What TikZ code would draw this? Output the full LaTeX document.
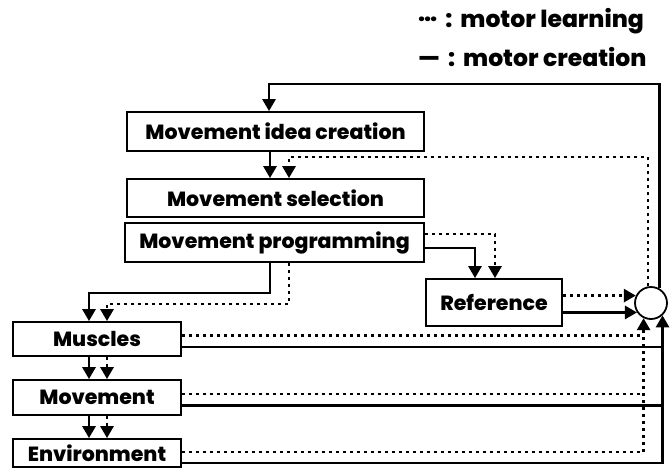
\documentclass[tikz,border=0pt]{standalone}
\usepackage{fontspec}
\setmainfont{Poppins}[BoldFont={Poppins ExtraBold}]
\usetikzlibrary{arrows.meta,calc}

\tikzset{
  block/.style={draw, line width=1.8pt, inner sep=0pt, font=\bfseries\fontsize{20.5}{20}\selectfont},
  legend/.style={anchor=west, inner sep=0pt, font=\bfseries\fontsize{23.5}{24}\selectfont},
  creation/.style={line width=2.8pt},
  learning/.style={line width=2.8pt, dash pattern=on 3pt off 4pt},
  tip/.style={-{Triangle[length=12pt,width=13pt]}}
}

\begin{document}
\begin{tikzpicture}[x=1pt,y=-1pt]
    \useasboundingbox (0,0) rectangle (672,467);

    % Legend
    \node[legend] (legl) at (418,21) {\raisebox{0.25em}{…}\hspace{8pt}:\hspace{8pt}motor learning};
    \node[legend] (legc) at (418,57) {—\hspace{8pt}:\hspace{8pt}motor creation};

    % Blocks
    \node[block, minimum width=297pt, minimum height=39pt] (mic) at (275.5,131.5) {Movement idea creation};
    \node[block, minimum width=297pt, minimum height=38pt] (ms) at (275.5,198) {Movement selection};
    \node[block, minimum width=299pt, minimum height=39pt] (mp) at (274.5,242.5) {Movement programming};
    \node[block, minimum width=136pt, minimum height=47pt] (ref) at (494,302.5) {Reference};
    \node[block, minimum width=168pt, minimum height=34pt] (mus) at (97,339) {Muscles};
    \node[block, minimum width=168pt, minimum height=35pt] (mov) at (97,397.5) {Movement};
    \node[block, minimum width=168pt, minimum height=28pt] (env) at (97,453) {Environment};

    % Comparator
    \node[draw, circle, line width=1.8pt, minimum size=32pt, inner sep=0pt] (sum) at (651,303) {};

    % Feedback to the top
    \coordinate (topline) at (0,84);
    \coordinate (dotline) at (0,157);
    \coordinate (micin) at ($(mic.north)+(-6.5,0)$);
    \coordinate (msin) at ($(ms.north)+(13.5,0)$);
    \draw[creation,tip] (sum.60) |- (micin |- topline) -- (micin);
    \draw[learning,tip] (sum.100) |- (msin |- dotline) -- (msin);

    % Idea creation -> selection
    \draw[creation,tip] ($(mic.south)+(-5.5,0)$) -- ($(ms.north)+(-5.5,0)$);

    % Programming -> reference
    \draw[creation,tip] ($(mp.east)+(0,5.5)$) -| ($(ref.north)+(-19,0)$);
    \draw[learning,tip] ($(mp.east)+(0,-8.5)$) -| ($(ref.north)+(1,0)$);

    % Programming -> muscles
    \coordinate (kneea) at (0,293);
    \coordinate (kneeb) at (0,304);
    \coordinate (mpa) at ($(mp.south)+(-4.5,0)$);
    \coordinate (mpb) at ($(mp.south)+(14.5,0)$);
    \draw[creation,tip] (mpa) -- (mpa |- kneea) -| ($(mus.north)+(-8,0)$);
    \draw[learning,tip] (mpb) -- (mpb |- kneeb) -| ($(mus.north)+(10,0)$);

    % Muscles -> movement -> environment
    \draw[creation,tip] ($(mus.south)+(-8,0)$) -- ($(mov.north)+(-8,0)$);
    \draw[learning,tip] ($(mus.south)+(10,0)$) -- ($(mov.north)+(10,0)$);
    \draw[creation,tip] ($(mov.south)+(-8,0)$) -- ($(env.north)+(-8,0)$);
    \draw[learning,tip] ($(mov.south)+(10,0)$) -- ($(env.north)+(10,0)$);

    % Reference -> comparator
    \draw[learning,tip] (ref.east |- sum.154) -- (sum.154);
    \draw[creation,tip] (ref.east |- sum.214) -- (sum.214);

    % Feedback from muscles, movement, environment
    \foreach \b in {mus,mov} {
        \coordinate (bl) at ($(\b.east)+(0,-3.5)$);
        \coordinate (bs) at ($(\b.east)+(0,8)$);
        \draw[learning] (bl) -- (bl -| sum.244);
        \draw[creation] (bs) -- (bs -| sum.313);
    }
    \draw[learning,tip] ($(env.east)+(0,-1)$) -| (sum.244);
    \draw[creation,tip] ($(env.east)+(0,10)$) -| (sum.313);
\end{tikzpicture}
\end{document}
